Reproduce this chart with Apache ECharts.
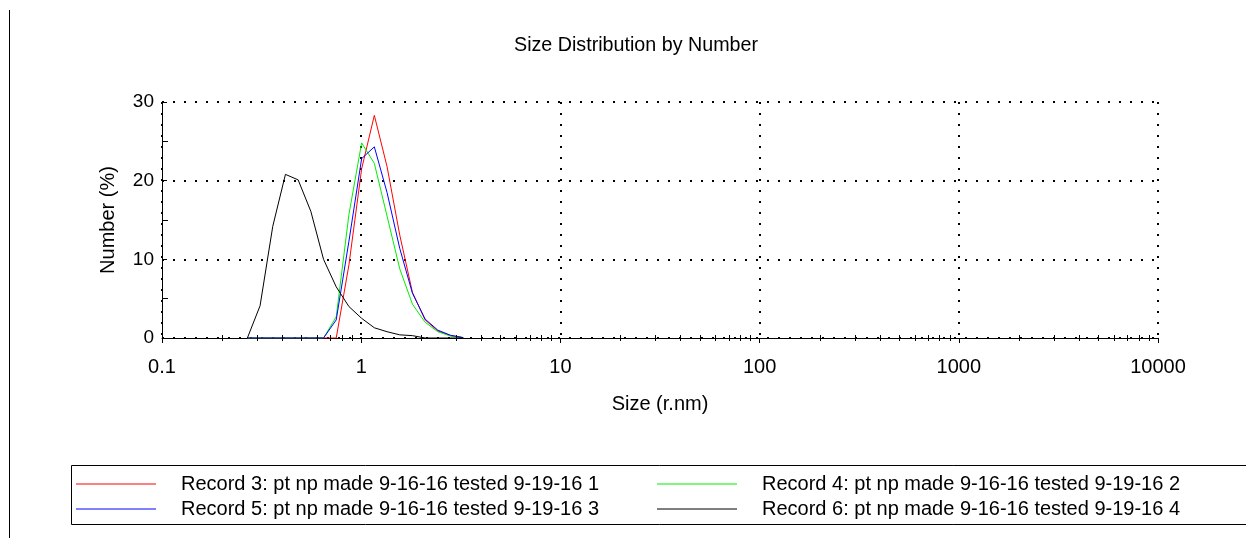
<!DOCTYPE html>
<html>
<head>
<meta charset="utf-8">
<script src="https://cdn.jsdelivr.net/npm/echarts@6/dist/echarts.min.js"></script>
<style>
html,body{margin:0;padding:0;background:#fff;}
#chart{width:1246px;height:538px;}
</style>
</head>
<body>
<div id="chart"></div>
<script>
// Size classes (radius, nm)
const sizes = [0.2683, 0.3107, 0.3598, 0.4166, 0.4825, 0.5587, 0.6470, 0.7493, 0.8677, 1.005, 1.164, 1.348, 1.561, 1.808, 2.094, 2.424, 2.808, 3.252];
// Number (%) per record
const record3 = [0, 0, 0, 0, 0, 0, 0, 0, 9.3, 21.5, 28.3, 21.8, 13.1, 5.8, 2.3, 0.9, 0.3, 0.05];
const record4 = [0, 0, 0, 0, 0, 0, 0, 2.7, 15.7, 24.8, 22.2, 15.5, 8.8, 4.3, 2.0, 0.8, 0.25, 0.03];
const record5 = [0, 0, 0, 0, 0, 0, 0, 2.3, 12.3, 22.8, 24.3, 18.5, 11.4, 5.7, 2.4, 1.0, 0.35, 0.05];
const record6 = [0, 4.1, 14.2, 20.8, 20.1, 16.1, 10.0, 6.5, 4.0, 2.5, 1.3, 0.8, 0.4, 0.3, 0, 0, 0, 0];
const seriesNames = [
  'Record 3: pt np made 9-16-16 tested 9-19-16 1',
  'Record 4: pt np made 9-16-16 tested 9-19-16 2',
  'Record 5: pt np made 9-16-16 tested 9-19-16 3',
  'Record 6: pt np made 9-16-16 tested 9-19-16 4'
];
const seriesColors = ['#ff0000', '#00ee00', '#0000ff', '#000000'];
// log-axis minor tick values
const xMinorTicks = [0.2,0.3,0.4,0.5,0.6,0.7,0.8,0.9, 2,3,4,5,6,7,8,9, 20,30,40,50,60,70,80,90, 200,300,400,500,600,700,800,900, 2000,3000,4000,5000,6000,7000,8000,9000];

const FONT = "'Liberation Sans', Arial, sans-serif";
const chart = echarts.init(document.getElementById('chart'), null, {renderer: 'canvas'});

function pairs(vals) { return sizes.map((s, i) => [s, vals[i]]); }
const values = [record3, record4, record5, record6];

const lineSeries = [0, 1, 2, 3].map(i => ({
  name: seriesNames[i],
  type: 'line',
  data: pairs(values[i]),
  showSymbol: false,
  symbol: 'none',
  color: seriesColors[i],
  itemStyle: {color: seriesColors[i]},
  lineStyle: {width: 1, color: seriesColors[i]},
  z: 3 + i,
  animation: false
}));

const dotted = {type: [2, 9], color: '#000', width: 2};

chart.setOption({
  backgroundColor: '#fff',
  animation: false,
  title: {
    text: 'Size Distribution by Number',
    left: 509, top: 31,
    textStyle: {fontFamily: FONT, fontSize: 19.7, fontWeight: 'normal', color: '#000'}
  },
  legend: {
    show: true,
    data: seriesNames,
    icon: 'rect',
    left: 71, top: 469, width: 1175,
    padding: 5,
    itemWidth: 80, itemHeight: 1, itemGap: 5,
    textStyle: {fontFamily: FONT, fontSize: 20, color: '#000', width: 471, lineHeight: 20, padding: [0, 0, 0, 20]}
  },
  grid: {left: 162, right: 88, top: 102, bottom: 200, containLabel: false},
  xAxis: {
    type: 'log', logBase: 10, min: 0.1, max: 10000,
    name: 'Size (r.nm)', nameLocation: 'middle', nameGap: 56,
    nameTextStyle: {fontFamily: FONT, fontSize: 20, color: '#000'},
    axisLine: {show: true, lineStyle: {color: '#000', width: 1}},
    axisTick: {show: true, inside: false, length: 5, lineStyle: {color: '#000'}},
    axisLabel: {fontFamily: FONT, fontSize: 20, color: '#000', margin: 19,
      formatter: v => String(parseFloat(Number(v).toPrecision(6)))},
    splitLine: {show: true, lineStyle: dotted}
  },
  yAxis: {
    type: 'value', min: 0, max: 30, interval: 10,
    name: 'Number (%)', nameLocation: 'middle', nameGap: 44,
    nameTextStyle: {fontFamily: FONT, fontSize: 20, color: '#000'},
    axisLine: {show: true, lineStyle: {color: '#000', width: 1}},
    axisTick: {show: true, inside: true, length: 5, lineStyle: {color: '#000'}},
    minorTick: {show: true, splitNumber: 2, length: 6, lineStyle: {color: '#000'}},
    axisLabel: {fontFamily: FONT, fontSize: 19, color: '#000', margin: 8},
    splitLine: {show: true, lineStyle: dotted}
  },
  graphic: [
    {type: 'line', shape: {x1: 9.5, y1: 10, x2: 9.5, y2: 538}, style: {stroke: '#000', lineWidth: 1}, silent: true},
    {type: 'rect', shape: {x: 71.5, y: 465.5, width: 1200, height: 59}, style: {fill: 'none', stroke: '#000', lineWidth: 1}, silent: true}
  ],
  series: lineSeries.concat([{
    type: 'custom',
    name: 'minorTicks',
    silent: true,
    clip: false,
    z: 10,
    data: xMinorTicks.map(v => [v, 0]),
    encode: {x: 0, y: 1},
    renderItem: function (params, api) {
      const p = api.coord([api.value(0), 0]);
      const x = Math.round(p[0]) + 0.5;
      return {type: 'line', shape: {x1: x, y1: p[1] - 3, x2: x, y2: p[1] + 3}, style: {stroke: '#000', lineWidth: 1}};
    }
  }])
});
</script>
</body>
</html>
